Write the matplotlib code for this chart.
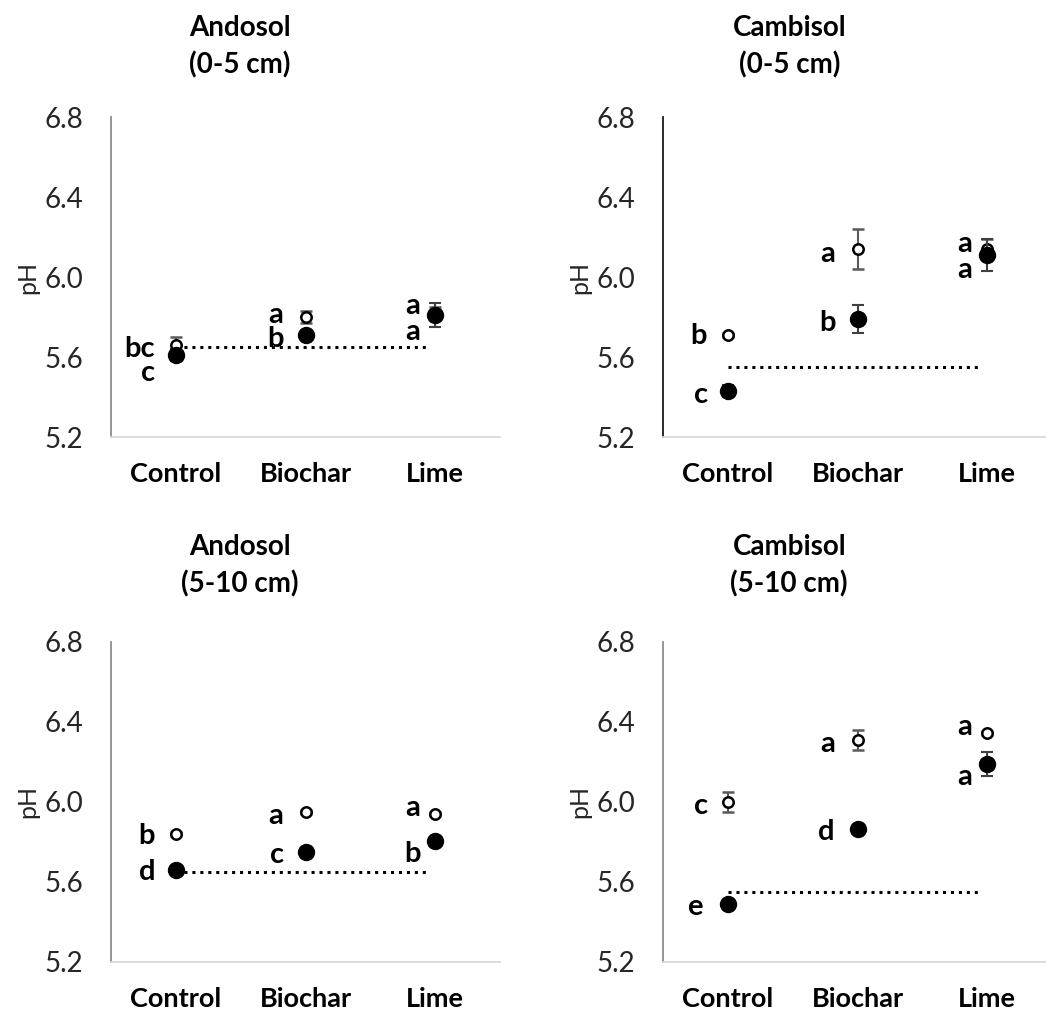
import matplotlib.pyplot as plt

plt.rcParams['font.family'] = ['Lato', 'DejaVu Sans']

treatments = ['Control', 'Biochar', 'Lime']
soils = ['Andosol\n(0-5 cm)', 'Cambisol\n(0-5 cm)', 'Andosol\n(5-10 cm)', 'Cambisol\n(5-10 cm)']

# open circles
open_ph = [[5.66, 5.80, 5.82], [5.71, 6.14, 6.14], [5.84, 5.95, 5.94], [6.00, 6.31, 6.345]]
open_err = [[0.04, 0.03, 0.03], [0.01, 0.10, 0.05], [0.01, 0.01, 0.01], [0.05, 0.05, 0.01]]
open_letters = [['bc', 'a', 'a'], ['b', 'a', 'a'], ['b', 'a', 'a'], ['c', 'a', 'a']]

# filled circles
fill_ph = [[5.61, 5.71, 5.81], [5.43, 5.79, 6.11], [5.66, 5.75, 5.805], [5.49, 5.865, 6.19]]
fill_err = [[0.03, 0.01, 0.06], [0.03, 0.07, 0.08], [0.01, 0.01, 0.01], [0.01, 0.01, 0.06]]
fill_letters = [['c', 'b', 'a'], ['c', 'b', 'a'], ['d', 'c', 'b'], ['e', 'd', 'a']]

# dotted reference line
ref_ph = [5.65, 5.55, 5.65, 5.55]

# letter offsets in pixels (dx, dy) relative to the point
open_off = [[(-36, -4), (-30, 2), (-23, 7)], [(-29, -1), (-30, -5), (-23, 5)],
            [(-29, -2), (-30, -4), (-23, 6)], [(-27, -4), (-30, -4), (-23, 6)]]
fill_off = [[(-28, -18), (-30, -4), (-23, -17)], [(-27, -4), (-30, -4), (-23, -15)],
            [(-29, -2), (-28, -3), (-23, -13)], [(-33, -3), (-31, -3), (-23, -13)]]

spine_cols = ['#8c8c8c', '#1a1a1a', '#8c8c8c', '#8c8c8c']
axes_pos = [[0.1061, 0.569, 0.372, 0.3156], [0.6338, 0.569, 0.372, 0.3156],
            [0.1061, 0.0513, 0.372, 0.3156], [0.6338, 0.0513, 0.372, 0.3156]]
title_pos = [(0.2295, 0.985), (0.7545, 0.985), (0.2295, 0.473), (0.7545, 0.473)]

fig = plt.figure(figsize=(10.46, 10.14), dpi=100)
x = [1, 2, 3]

for i in range(4):
    ax = fig.add_axes(axes_pos[i])
    ax.hlines(ref_ph[i], 1, 2.95, colors='black', linestyles=(0, (1, 1.6)), linewidth=2.2, zorder=2)
    ax.errorbar(x, open_ph[i], yerr=open_err[i], fmt='o', ms=7.5, mfc='white', mec='black',
                mew=1.8, ecolor='#595959', elinewidth=1.5, capsize=4, capthick=1.5, zorder=3)
    ax.errorbar(x, fill_ph[i], yerr=fill_err[i], fmt='o', ms=11.5, mfc='black', mec='black',
                ecolor='#404040', elinewidth=1.5, capsize=4, capthick=1.5, zorder=4)
    for j in range(3):
        ax.annotate(open_letters[i][j], (x[j], open_ph[i][j]), xytext=open_off[i][j],
                    textcoords='offset pixels', ha='center', va='center',
                    fontsize=21, fontweight='bold')
        ax.annotate(fill_letters[i][j], (x[j], fill_ph[i][j]), xytext=fill_off[i][j],
                    textcoords='offset pixels', ha='center', va='center',
                    fontsize=21, fontweight='bold')
    ax.set_xlim(0.5, 3.5)
    ax.set_ylim(5.2, 6.8)
    ax.set_yticks([5.2, 5.6, 6.0, 6.4, 6.8])
    ax.set_yticklabels(['5.2', '5.6', '6.0', '6.4', '6.8'], fontsize=20, color='#262626')
    ax.set_xticks(x)
    ax.set_xticklabels(treatments, fontsize=19.5, fontweight='bold')
    ax.tick_params(length=0, axis='y', pad=20)
    ax.tick_params(length=0, axis='x', pad=18)
    ax.set_ylabel('pH', fontsize=18, color='#262626', labelpad=4)
    for s in ['top', 'right']:
        ax.spines[s].set_visible(False)
    ax.spines['left'].set_color(spine_cols[i])
    ax.spines['left'].set_linewidth(1.3)
    ax.spines['bottom'].set_color('#d9d9d9')
    ax.spines['bottom'].set_linewidth(1.3)
    fig.text(title_pos[i][0], title_pos[i][1], soils[i], ha='center', va='top',
             fontsize=20, fontweight='bold', linespacing=1.45)

fig.savefig('out.png', dpi=100)
